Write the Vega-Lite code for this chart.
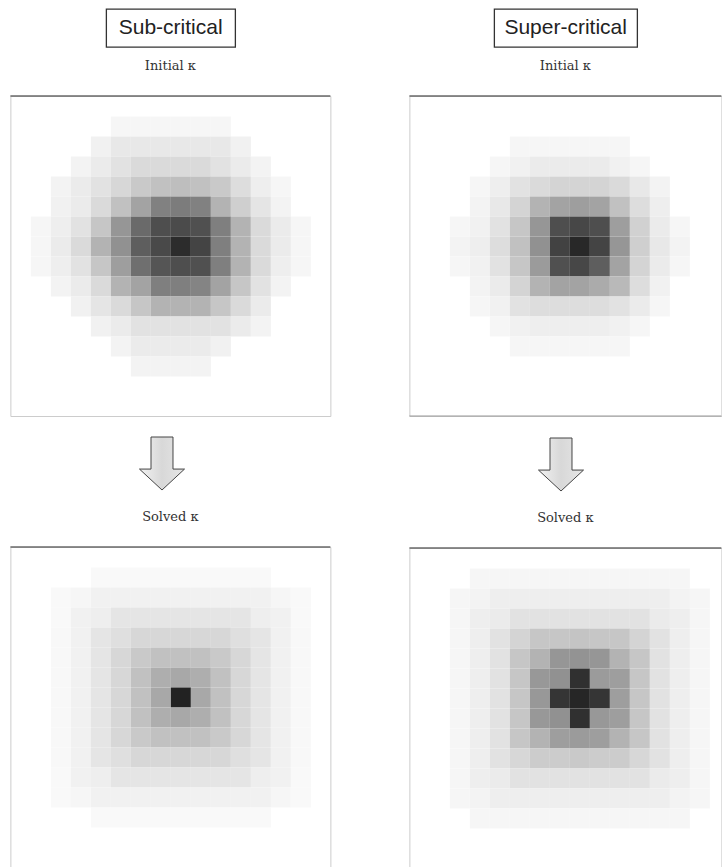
{
  "$schema": "https://vega.github.io/schema/vega-lite/v6.json",
  "padding": {"left": 9, "top": 8, "right": 0, "bottom": 0},
  "background": "white",
  "datasets": {
    "subInit": [
      {"i":5,"j":14,"kappa":0.03},{"i":6,"j":14,"kappa":0.03},{"i":7,"j":14,"kappa":0.03},{"i":8,"j":14,"kappa":0.03},{"i":9,"j":14,"kappa":0.03},{"i":10,"j":14,"kappa":0.03},
      {"i":4,"j":13,"kappa":0.05},{"i":5,"j":13,"kappa":0.08},{"i":6,"j":13,"kappa":0.08},{"i":7,"j":13,"kappa":0.08},{"i":8,"j":13,"kappa":0.08},{"i":9,"j":13,"kappa":0.08},{"i":10,"j":13,"kappa":0.08},{"i":11,"j":13,"kappa":0.05},
      {"i":3,"j":12,"kappa":0.04},{"i":4,"j":12,"kappa":0.07},{"i":5,"j":12,"kappa":0.10},{"i":6,"j":12,"kappa":0.13},{"i":7,"j":12,"kappa":0.13},{"i":8,"j":12,"kappa":0.13},{"i":9,"j":12,"kappa":0.13},{"i":10,"j":12,"kappa":0.10},{"i":11,"j":12,"kappa":0.07},{"i":12,"j":12,"kappa":0.04},
      {"i":2,"j":11,"kappa":0.04},{"i":3,"j":11,"kappa":0.07},{"i":4,"j":11,"kappa":0.10},{"i":5,"j":11,"kappa":0.14},{"i":6,"j":11,"kappa":0.19},{"i":7,"j":11,"kappa":0.22},{"i":8,"j":11,"kappa":0.23},{"i":9,"j":11,"kappa":0.22},{"i":10,"j":11,"kappa":0.19},{"i":11,"j":11,"kappa":0.12},{"i":12,"j":11,"kappa":0.06},{"i":13,"j":11,"kappa":0.03},
      {"i":2,"j":10,"kappa":0.05},{"i":3,"j":10,"kappa":0.07},{"i":4,"j":10,"kappa":0.13},{"i":5,"j":10,"kappa":0.22},{"i":6,"j":10,"kappa":0.33},{"i":7,"j":10,"kappa":0.46},{"i":8,"j":10,"kappa":0.48},{"i":9,"j":10,"kappa":0.46},{"i":10,"j":10,"kappa":0.27},{"i":11,"j":10,"kappa":0.17},{"i":12,"j":10,"kappa":0.09},{"i":13,"j":10,"kappa":0.04},
      {"i":1,"j":9,"kappa":0.03},{"i":2,"j":9,"kappa":0.06},{"i":3,"j":9,"kappa":0.10},{"i":4,"j":9,"kappa":0.20},{"i":5,"j":9,"kappa":0.38},{"i":6,"j":9,"kappa":0.55},{"i":7,"j":9,"kappa":0.67},{"i":8,"j":9,"kappa":0.68},{"i":9,"j":9,"kappa":0.66},{"i":10,"j":9,"kappa":0.47},{"i":11,"j":9,"kappa":0.27},{"i":12,"j":9,"kappa":0.13},{"i":13,"j":9,"kappa":0.07},{"i":14,"j":9,"kappa":0.03},
      {"i":1,"j":8,"kappa":0.03},{"i":2,"j":8,"kappa":0.07},{"i":3,"j":8,"kappa":0.13},{"i":4,"j":8,"kappa":0.27},{"i":5,"j":8,"kappa":0.40},{"i":6,"j":8,"kappa":0.60},{"i":7,"j":8,"kappa":0.69},{"i":8,"j":8,"kappa":0.82},{"i":9,"j":8,"kappa":0.71},{"i":10,"j":8,"kappa":0.47},{"i":11,"j":8,"kappa":0.27},{"i":12,"j":8,"kappa":0.13},{"i":13,"j":8,"kappa":0.07},{"i":14,"j":8,"kappa":0.03},
      {"i":1,"j":7,"kappa":0.03},{"i":2,"j":7,"kappa":0.06},{"i":3,"j":7,"kappa":0.10},{"i":4,"j":7,"kappa":0.20},{"i":5,"j":7,"kappa":0.35},{"i":6,"j":7,"kappa":0.53},{"i":7,"j":7,"kappa":0.64},{"i":8,"j":7,"kappa":0.67},{"i":9,"j":7,"kappa":0.66},{"i":10,"j":7,"kappa":0.47},{"i":11,"j":7,"kappa":0.27},{"i":12,"j":7,"kappa":0.13},{"i":13,"j":7,"kappa":0.06},{"i":14,"j":7,"kappa":0.03},
      {"i":2,"j":6,"kappa":0.04},{"i":3,"j":6,"kappa":0.07},{"i":4,"j":6,"kappa":0.13},{"i":5,"j":6,"kappa":0.27},{"i":6,"j":6,"kappa":0.33},{"i":7,"j":6,"kappa":0.47},{"i":8,"j":6,"kappa":0.47},{"i":9,"j":6,"kappa":0.45},{"i":10,"j":6,"kappa":0.33},{"i":11,"j":6,"kappa":0.20},{"i":12,"j":6,"kappa":0.10},{"i":13,"j":6,"kappa":0.04},
      {"i":3,"j":5,"kappa":0.05},{"i":4,"j":5,"kappa":0.09},{"i":5,"j":5,"kappa":0.13},{"i":6,"j":5,"kappa":0.20},{"i":7,"j":5,"kappa":0.27},{"i":8,"j":5,"kappa":0.27},{"i":9,"j":5,"kappa":0.27},{"i":10,"j":5,"kappa":0.20},{"i":11,"j":5,"kappa":0.13},{"i":12,"j":5,"kappa":0.07},
      {"i":4,"j":4,"kappa":0.05},{"i":5,"j":4,"kappa":0.07},{"i":6,"j":4,"kappa":0.10},{"i":7,"j":4,"kappa":0.10},{"i":8,"j":4,"kappa":0.10},{"i":9,"j":4,"kappa":0.10},{"i":10,"j":4,"kappa":0.10},{"i":11,"j":4,"kappa":0.07},{"i":12,"j":4,"kappa":0.04},
      {"i":5,"j":3,"kappa":0.04},{"i":6,"j":3,"kappa":0.07},{"i":7,"j":3,"kappa":0.07},{"i":8,"j":3,"kappa":0.07},{"i":9,"j":3,"kappa":0.07},{"i":10,"j":3,"kappa":0.05},
      {"i":6,"j":2,"kappa":0.04},{"i":7,"j":2,"kappa":0.04},{"i":8,"j":2,"kappa":0.04},{"i":9,"j":2,"kappa":0.04}
    ],
    "supInit": [
      {"i":5,"j":13,"kappa":0.03},{"i":6,"j":13,"kappa":0.03},{"i":7,"j":13,"kappa":0.03},{"i":8,"j":13,"kappa":0.03},{"i":9,"j":13,"kappa":0.03},{"i":10,"j":13,"kappa":0.03},
      {"i":4,"j":12,"kappa":0.03},{"i":5,"j":12,"kappa":0.05},{"i":6,"j":12,"kappa":0.07},{"i":7,"j":12,"kappa":0.07},{"i":8,"j":12,"kappa":0.07},{"i":9,"j":12,"kappa":0.07},{"i":10,"j":12,"kappa":0.05},{"i":11,"j":12,"kappa":0.03},
      {"i":3,"j":11,"kappa":0.03},{"i":4,"j":11,"kappa":0.06},{"i":5,"j":11,"kappa":0.10},{"i":6,"j":11,"kappa":0.13},{"i":7,"j":11,"kappa":0.15},{"i":8,"j":11,"kappa":0.15},{"i":9,"j":11,"kappa":0.15},{"i":10,"j":11,"kappa":0.13},{"i":11,"j":11,"kappa":0.08},{"i":12,"j":11,"kappa":0.04},
      {"i":3,"j":10,"kappa":0.04},{"i":4,"j":10,"kappa":0.08},{"i":5,"j":10,"kappa":0.15},{"i":6,"j":10,"kappa":0.27},{"i":7,"j":10,"kappa":0.33},{"i":8,"j":10,"kappa":0.35},{"i":9,"j":10,"kappa":0.33},{"i":10,"j":10,"kappa":0.22},{"i":11,"j":10,"kappa":0.12},{"i":12,"j":10,"kappa":0.06},
      {"i":2,"j":9,"kappa":0.03},{"i":3,"j":9,"kappa":0.05},{"i":4,"j":9,"kappa":0.10},{"i":5,"j":9,"kappa":0.20},{"i":6,"j":9,"kappa":0.38},{"i":7,"j":9,"kappa":0.67},{"i":8,"j":9,"kappa":0.70},{"i":9,"j":9,"kappa":0.67},{"i":10,"j":9,"kappa":0.35},{"i":11,"j":9,"kappa":0.16},{"i":12,"j":9,"kappa":0.07},{"i":13,"j":9,"kappa":0.03},
      {"i":2,"j":8,"kappa":0.04},{"i":3,"j":8,"kappa":0.06},{"i":4,"j":8,"kappa":0.12},{"i":5,"j":8,"kappa":0.22},{"i":6,"j":8,"kappa":0.40},{"i":7,"j":8,"kappa":0.72},{"i":8,"j":8,"kappa":0.84},{"i":9,"j":8,"kappa":0.71},{"i":10,"j":8,"kappa":0.38},{"i":11,"j":8,"kappa":0.17},{"i":12,"j":8,"kappa":0.08},{"i":13,"j":8,"kappa":0.04},
      {"i":2,"j":7,"kappa":0.03},{"i":3,"j":7,"kappa":0.05},{"i":4,"j":7,"kappa":0.10},{"i":5,"j":7,"kappa":0.20},{"i":6,"j":7,"kappa":0.36},{"i":7,"j":7,"kappa":0.66},{"i":8,"j":7,"kappa":0.70},{"i":9,"j":7,"kappa":0.60},{"i":10,"j":7,"kappa":0.33},{"i":11,"j":7,"kappa":0.15},{"i":12,"j":7,"kappa":0.07},{"i":13,"j":7,"kappa":0.03},
      {"i":3,"j":6,"kappa":0.04},{"i":4,"j":6,"kappa":0.07},{"i":5,"j":6,"kappa":0.15},{"i":6,"j":6,"kappa":0.27},{"i":7,"j":6,"kappa":0.33},{"i":8,"j":6,"kappa":0.33},{"i":9,"j":6,"kappa":0.30},{"i":10,"j":6,"kappa":0.25},{"i":11,"j":6,"kappa":0.12},{"i":12,"j":6,"kappa":0.05},
      {"i":3,"j":5,"kappa":0.03},{"i":4,"j":5,"kappa":0.05},{"i":5,"j":5,"kappa":0.10},{"i":6,"j":5,"kappa":0.12},{"i":7,"j":5,"kappa":0.12},{"i":8,"j":5,"kappa":0.12},{"i":9,"j":5,"kappa":0.12},{"i":10,"j":5,"kappa":0.10},{"i":11,"j":5,"kappa":0.07},{"i":12,"j":5,"kappa":0.03},
      {"i":4,"j":4,"kappa":0.03},{"i":5,"j":4,"kappa":0.05},{"i":6,"j":4,"kappa":0.06},{"i":7,"j":4,"kappa":0.06},{"i":8,"j":4,"kappa":0.06},{"i":9,"j":4,"kappa":0.06},{"i":10,"j":4,"kappa":0.05},{"i":11,"j":4,"kappa":0.03},
      {"i":5,"j":3,"kappa":0.03},{"i":6,"j":3,"kappa":0.03},{"i":7,"j":3,"kappa":0.03},{"i":8,"j":3,"kappa":0.03},{"i":9,"j":3,"kappa":0.03},{"i":10,"j":3,"kappa":0.03}
    ],
    "subSolved": [
      {"i":4,"j":14,"kappa":0.02},{"i":5,"j":14,"kappa":0.02},{"i":6,"j":14,"kappa":0.02},{"i":7,"j":14,"kappa":0.02},{"i":8,"j":14,"kappa":0.02},{"i":9,"j":14,"kappa":0.02},{"i":10,"j":14,"kappa":0.02},{"i":11,"j":14,"kappa":0.02},{"i":12,"j":14,"kappa":0.02},
      {"i":2,"j":13,"kappa":0.02},{"i":3,"j":13,"kappa":0.03},{"i":4,"j":13,"kappa":0.05},{"i":5,"j":13,"kappa":0.05},{"i":6,"j":13,"kappa":0.05},{"i":7,"j":13,"kappa":0.05},{"i":8,"j":13,"kappa":0.05},{"i":9,"j":13,"kappa":0.05},{"i":10,"j":13,"kappa":0.05},{"i":11,"j":13,"kappa":0.05},{"i":12,"j":13,"kappa":0.05},{"i":13,"j":13,"kappa":0.03},{"i":14,"j":13,"kappa":0.02},
      {"i":2,"j":12,"kappa":0.02},{"i":3,"j":12,"kappa":0.05},{"i":4,"j":12,"kappa":0.06},{"i":5,"j":12,"kappa":0.09},{"i":6,"j":12,"kappa":0.09},{"i":7,"j":12,"kappa":0.09},{"i":8,"j":12,"kappa":0.09},{"i":9,"j":12,"kappa":0.09},{"i":10,"j":12,"kappa":0.09},{"i":11,"j":12,"kappa":0.09},{"i":12,"j":12,"kappa":0.06},{"i":13,"j":12,"kappa":0.05},{"i":14,"j":12,"kappa":0.02},
      {"i":2,"j":11,"kappa":0.025},{"i":3,"j":11,"kappa":0.05},{"i":4,"j":11,"kappa":0.09},{"i":5,"j":11,"kappa":0.11},{"i":6,"j":11,"kappa":0.14},{"i":7,"j":11,"kappa":0.14},{"i":8,"j":11,"kappa":0.14},{"i":9,"j":11,"kappa":0.14},{"i":10,"j":11,"kappa":0.14},{"i":11,"j":11,"kappa":0.11},{"i":12,"j":11,"kappa":0.09},{"i":13,"j":11,"kappa":0.05},{"i":14,"j":11,"kappa":0.025},
      {"i":2,"j":10,"kappa":0.025},{"i":3,"j":10,"kappa":0.05},{"i":4,"j":10,"kappa":0.09},{"i":5,"j":10,"kappa":0.14},{"i":6,"j":10,"kappa":0.19},{"i":7,"j":10,"kappa":0.22},{"i":8,"j":10,"kappa":0.22},{"i":9,"j":10,"kappa":0.22},{"i":10,"j":10,"kappa":0.19},{"i":11,"j":10,"kappa":0.14},{"i":12,"j":10,"kappa":0.09},{"i":13,"j":10,"kappa":0.05},{"i":14,"j":10,"kappa":0.025},
      {"i":2,"j":9,"kappa":0.025},{"i":3,"j":9,"kappa":0.05},{"i":4,"j":9,"kappa":0.09},{"i":5,"j":9,"kappa":0.14},{"i":6,"j":9,"kappa":0.22},{"i":7,"j":9,"kappa":0.29},{"i":8,"j":9,"kappa":0.31},{"i":9,"j":9,"kappa":0.29},{"i":10,"j":9,"kappa":0.22},{"i":11,"j":9,"kappa":0.14},{"i":12,"j":9,"kappa":0.09},{"i":13,"j":9,"kappa":0.05},{"i":14,"j":9,"kappa":0.025},
      {"i":2,"j":8,"kappa":0.025},{"i":3,"j":8,"kappa":0.05},{"i":4,"j":8,"kappa":0.09},{"i":5,"j":8,"kappa":0.14},{"i":6,"j":8,"kappa":0.22},{"i":7,"j":8,"kappa":0.31},{"i":8,"j":8,"kappa":0.87},{"i":9,"j":8,"kappa":0.31},{"i":10,"j":8,"kappa":0.22},{"i":11,"j":8,"kappa":0.14},{"i":12,"j":8,"kappa":0.09},{"i":13,"j":8,"kappa":0.05},{"i":14,"j":8,"kappa":0.025},
      {"i":2,"j":7,"kappa":0.025},{"i":3,"j":7,"kappa":0.05},{"i":4,"j":7,"kappa":0.09},{"i":5,"j":7,"kappa":0.14},{"i":6,"j":7,"kappa":0.22},{"i":7,"j":7,"kappa":0.29},{"i":8,"j":7,"kappa":0.31},{"i":9,"j":7,"kappa":0.29},{"i":10,"j":7,"kappa":0.22},{"i":11,"j":7,"kappa":0.14},{"i":12,"j":7,"kappa":0.09},{"i":13,"j":7,"kappa":0.05},{"i":14,"j":7,"kappa":0.025},
      {"i":2,"j":6,"kappa":0.025},{"i":3,"j":6,"kappa":0.05},{"i":4,"j":6,"kappa":0.09},{"i":5,"j":6,"kappa":0.14},{"i":6,"j":6,"kappa":0.19},{"i":7,"j":6,"kappa":0.22},{"i":8,"j":6,"kappa":0.22},{"i":9,"j":6,"kappa":0.22},{"i":10,"j":6,"kappa":0.19},{"i":11,"j":6,"kappa":0.14},{"i":12,"j":6,"kappa":0.09},{"i":13,"j":6,"kappa":0.05},{"i":14,"j":6,"kappa":0.025},
      {"i":2,"j":5,"kappa":0.025},{"i":3,"j":5,"kappa":0.05},{"i":4,"j":5,"kappa":0.09},{"i":5,"j":5,"kappa":0.11},{"i":6,"j":5,"kappa":0.14},{"i":7,"j":5,"kappa":0.14},{"i":8,"j":5,"kappa":0.14},{"i":9,"j":5,"kappa":0.14},{"i":10,"j":5,"kappa":0.14},{"i":11,"j":5,"kappa":0.11},{"i":12,"j":5,"kappa":0.09},{"i":13,"j":5,"kappa":0.05},{"i":14,"j":5,"kappa":0.025},
      {"i":2,"j":4,"kappa":0.02},{"i":3,"j":4,"kappa":0.05},{"i":4,"j":4,"kappa":0.06},{"i":5,"j":4,"kappa":0.09},{"i":6,"j":4,"kappa":0.09},{"i":7,"j":4,"kappa":0.09},{"i":8,"j":4,"kappa":0.09},{"i":9,"j":4,"kappa":0.09},{"i":10,"j":4,"kappa":0.09},{"i":11,"j":4,"kappa":0.09},{"i":12,"j":4,"kappa":0.06},{"i":13,"j":4,"kappa":0.05},{"i":14,"j":4,"kappa":0.02},
      {"i":2,"j":3,"kappa":0.02},{"i":3,"j":3,"kappa":0.03},{"i":4,"j":3,"kappa":0.05},{"i":5,"j":3,"kappa":0.05},{"i":6,"j":3,"kappa":0.05},{"i":7,"j":3,"kappa":0.05},{"i":8,"j":3,"kappa":0.05},{"i":9,"j":3,"kappa":0.05},{"i":10,"j":3,"kappa":0.05},{"i":11,"j":3,"kappa":0.05},{"i":12,"j":3,"kappa":0.05},{"i":13,"j":3,"kappa":0.03},{"i":14,"j":3,"kappa":0.02},
      {"i":4,"j":2,"kappa":0.02},{"i":5,"j":2,"kappa":0.02},{"i":6,"j":2,"kappa":0.02},{"i":7,"j":2,"kappa":0.02},{"i":8,"j":2,"kappa":0.02},{"i":9,"j":2,"kappa":0.02},{"i":10,"j":2,"kappa":0.02},{"i":11,"j":2,"kappa":0.02},{"i":12,"j":2,"kappa":0.02}
    ],
    "supSolved": [
      {"i":3,"j":14,"kappa":0.03},{"i":4,"j":14,"kappa":0.03},{"i":5,"j":14,"kappa":0.03},{"i":6,"j":14,"kappa":0.03},{"i":7,"j":14,"kappa":0.03},{"i":8,"j":14,"kappa":0.03},{"i":9,"j":14,"kappa":0.03},{"i":10,"j":14,"kappa":0.03},{"i":11,"j":14,"kappa":0.03},{"i":12,"j":14,"kappa":0.03},{"i":13,"j":14,"kappa":0.03},
      {"i":2,"j":13,"kappa":0.03},{"i":3,"j":13,"kappa":0.04},{"i":4,"j":13,"kappa":0.06},{"i":5,"j":13,"kappa":0.06},{"i":6,"j":13,"kappa":0.06},{"i":7,"j":13,"kappa":0.06},{"i":8,"j":13,"kappa":0.06},{"i":9,"j":13,"kappa":0.06},{"i":10,"j":13,"kappa":0.06},{"i":11,"j":13,"kappa":0.06},{"i":12,"j":13,"kappa":0.06},{"i":13,"j":13,"kappa":0.04},{"i":14,"j":13,"kappa":0.03},
      {"i":2,"j":12,"kappa":0.03},{"i":3,"j":12,"kappa":0.06},{"i":4,"j":12,"kappa":0.07},{"i":5,"j":12,"kappa":0.10},{"i":6,"j":12,"kappa":0.10},{"i":7,"j":12,"kappa":0.10},{"i":8,"j":12,"kappa":0.10},{"i":9,"j":12,"kappa":0.10},{"i":10,"j":12,"kappa":0.10},{"i":11,"j":12,"kappa":0.10},{"i":12,"j":12,"kappa":0.07},{"i":13,"j":12,"kappa":0.06},{"i":14,"j":12,"kappa":0.03},
      {"i":2,"j":11,"kappa":0.03},{"i":3,"j":11,"kappa":0.06},{"i":4,"j":11,"kappa":0.10},{"i":5,"j":11,"kappa":0.15},{"i":6,"j":11,"kappa":0.20},{"i":7,"j":11,"kappa":0.20},{"i":8,"j":11,"kappa":0.21},{"i":9,"j":11,"kappa":0.20},{"i":10,"j":11,"kappa":0.20},{"i":11,"j":11,"kappa":0.15},{"i":12,"j":11,"kappa":0.10},{"i":13,"j":11,"kappa":0.06},{"i":14,"j":11,"kappa":0.03},
      {"i":2,"j":10,"kappa":0.03},{"i":3,"j":10,"kappa":0.06},{"i":4,"j":10,"kappa":0.10},{"i":5,"j":10,"kappa":0.20},{"i":6,"j":10,"kappa":0.27},{"i":7,"j":10,"kappa":0.38},{"i":8,"j":10,"kappa":0.39},{"i":9,"j":10,"kappa":0.38},{"i":10,"j":10,"kappa":0.27},{"i":11,"j":10,"kappa":0.20},{"i":12,"j":10,"kappa":0.10},{"i":13,"j":10,"kappa":0.06},{"i":14,"j":10,"kappa":0.03},
      {"i":2,"j":9,"kappa":0.03},{"i":3,"j":9,"kappa":0.06},{"i":4,"j":9,"kappa":0.10},{"i":5,"j":9,"kappa":0.20},{"i":6,"j":9,"kappa":0.37},{"i":7,"j":9,"kappa":0.40},{"i":8,"j":9,"kappa":0.80},{"i":9,"j":9,"kappa":0.36},{"i":10,"j":9,"kappa":0.35},{"i":11,"j":9,"kappa":0.20},{"i":12,"j":9,"kappa":0.10},{"i":13,"j":9,"kappa":0.06},{"i":14,"j":9,"kappa":0.03},
      {"i":2,"j":8,"kappa":0.03},{"i":3,"j":8,"kappa":0.06},{"i":4,"j":8,"kappa":0.10},{"i":5,"j":8,"kappa":0.20},{"i":6,"j":8,"kappa":0.37},{"i":7,"j":8,"kappa":0.78},{"i":8,"j":8,"kappa":0.85},{"i":9,"j":8,"kappa":0.78},{"i":10,"j":8,"kappa":0.35},{"i":11,"j":8,"kappa":0.20},{"i":12,"j":8,"kappa":0.10},{"i":13,"j":8,"kappa":0.06},{"i":14,"j":8,"kappa":0.03},
      {"i":2,"j":7,"kappa":0.03},{"i":3,"j":7,"kappa":0.06},{"i":4,"j":7,"kappa":0.10},{"i":5,"j":7,"kappa":0.20},{"i":6,"j":7,"kappa":0.37},{"i":7,"j":7,"kappa":0.40},{"i":8,"j":7,"kappa":0.80},{"i":9,"j":7,"kappa":0.37},{"i":10,"j":7,"kappa":0.35},{"i":11,"j":7,"kappa":0.20},{"i":12,"j":7,"kappa":0.10},{"i":13,"j":7,"kappa":0.06},{"i":14,"j":7,"kappa":0.03},
      {"i":2,"j":6,"kappa":0.03},{"i":3,"j":6,"kappa":0.06},{"i":4,"j":6,"kappa":0.10},{"i":5,"j":6,"kappa":0.20},{"i":6,"j":6,"kappa":0.27},{"i":7,"j":6,"kappa":0.35},{"i":8,"j":6,"kappa":0.36},{"i":9,"j":6,"kappa":0.35},{"i":10,"j":6,"kappa":0.27},{"i":11,"j":6,"kappa":0.20},{"i":12,"j":6,"kappa":0.10},{"i":13,"j":6,"kappa":0.06},{"i":14,"j":6,"kappa":0.03},
      {"i":2,"j":5,"kappa":0.03},{"i":3,"j":5,"kappa":0.06},{"i":4,"j":5,"kappa":0.10},{"i":5,"j":5,"kappa":0.14},{"i":6,"j":5,"kappa":0.18},{"i":7,"j":5,"kappa":0.18},{"i":8,"j":5,"kappa":0.19},{"i":9,"j":5,"kappa":0.18},{"i":10,"j":5,"kappa":0.18},{"i":11,"j":5,"kappa":0.14},{"i":12,"j":5,"kappa":0.10},{"i":13,"j":5,"kappa":0.06},{"i":14,"j":5,"kappa":0.03},
      {"i":2,"j":4,"kappa":0.03},{"i":3,"j":4,"kappa":0.06},{"i":4,"j":4,"kappa":0.07},{"i":5,"j":4,"kappa":0.10},{"i":6,"j":4,"kappa":0.10},{"i":7,"j":4,"kappa":0.10},{"i":8,"j":4,"kappa":0.10},{"i":9,"j":4,"kappa":0.10},{"i":10,"j":4,"kappa":0.10},{"i":11,"j":4,"kappa":0.10},{"i":12,"j":4,"kappa":0.07},{"i":13,"j":4,"kappa":0.06},{"i":14,"j":4,"kappa":0.03},
      {"i":2,"j":3,"kappa":0.03},{"i":3,"j":3,"kappa":0.04},{"i":4,"j":3,"kappa":0.06},{"i":5,"j":3,"kappa":0.06},{"i":6,"j":3,"kappa":0.06},{"i":7,"j":3,"kappa":0.06},{"i":8,"j":3,"kappa":0.06},{"i":9,"j":3,"kappa":0.06},{"i":10,"j":3,"kappa":0.06},{"i":11,"j":3,"kappa":0.06},{"i":12,"j":3,"kappa":0.06},{"i":13,"j":3,"kappa":0.04},{"i":14,"j":3,"kappa":0.03},
      {"i":3,"j":2,"kappa":0.03},{"i":4,"j":2,"kappa":0.03},{"i":5,"j":2,"kappa":0.03},{"i":6,"j":2,"kappa":0.03},{"i":7,"j":2,"kappa":0.03},{"i":8,"j":2,"kappa":0.03},{"i":9,"j":2,"kappa":0.03},{"i":10,"j":2,"kappa":0.03},{"i":11,"j":2,"kappa":0.03},{"i":12,"j":2,"kappa":0.03},{"i":13,"j":2,"kappa":0.03}
    ]
  },
  "spacing": 76,
  "hconcat": [
    {
      "spacing": 11,
      "center": true,
      "vconcat": [
        {
          "width": 129, "height": 38,
          "view": {"stroke": "#333333", "strokeWidth": 1.3},
          "data": {"values": [{"label": "Sub-critical"}]},
          "mark": {"type": "text", "font": "Liberation Sans", "fontSize": 21, "color": "#222222"},
          "encoding": {"text": {"field": "label"}}
        },
        {
          "width": 320, "height": 320,
          "title": {"text": "Initial κ", "offset": 22},
          "layer": [
            {
              "data": {"name": "subInit"},
              "mark": "rect",
              "encoding": {
                "x": {"field": "i", "type": "quantitative", "bin": {"binned": true, "step": 1}, "scale": {"domain": [0, 16], "nice": false, "zero": false}, "axis": null},
                "y": {"field": "j", "type": "quantitative", "bin": {"binned": true, "step": 1}, "scale": {"domain": [0, 16], "nice": false, "zero": false}, "axis": null},
                "color": {"field": "kappa", "type": "quantitative", "scale": {"domain": [0, 1], "range": ["#ffffff", "#000000"]}, "legend": null}
              }
            },
            {
              "data": {"values": [{"edge": "top"}]},
              "mark": {"type": "rule", "color": "#6a6a6a", "strokeWidth": 1.5},
              "encoding": {"y": {"datum": 16, "type": "quantitative"}}
            }
          ]
        },
        {
          "width": 320, "height": 71,
          "view": {"stroke": null},
          "data": {"values": [{"step": "solve"}]},
          "mark": {"type": "point", "shape": "M-0.415,-1L0.415,-1L0.415,0.21L0.85,0.21L0,1L-0.85,0.21L-0.415,0.21Z", "size": 2809, "filled": true, "opacity": 1,
            "fill": {"gradient": "linear", "x1": 0, "y1": 0, "x2": 1, "y2": 0, "stops": [{"offset": 0, "color": "#f2f2f2"}, {"offset": 0.5, "color": "#d8d8d8"}, {"offset": 1, "color": "#e6e6e6"}]},
            "stroke": "#444444", "strokeWidth": 1},
          "encoding": {"x": {"datum": 7.55, "type": "quantitative", "scale": {"domain": [0, 16], "nice": false, "zero": false}, "axis": null}}
        },
        {
          "width": 320, "height": 320,
          "title": {"text": "Solved κ", "offset": 22},
          "layer": [
            {
              "data": {"name": "subSolved"},
              "mark": "rect",
              "encoding": {
                "x": {"field": "i", "type": "quantitative", "bin": {"binned": true, "step": 1}, "scale": {"domain": [0, 16], "nice": false, "zero": false}, "axis": null},
                "y": {"field": "j", "type": "quantitative", "bin": {"binned": true, "step": 1}, "scale": {"domain": [0, 16], "nice": false, "zero": false}, "axis": null},
                "color": {"field": "kappa", "type": "quantitative", "scale": {"domain": [0, 1], "range": ["#ffffff", "#000000"]}, "legend": null}
              }
            },
            {
              "data": {"values": [{"edge": "top"}]},
              "mark": {"type": "rule", "color": "#6a6a6a", "strokeWidth": 1.5},
              "encoding": {"y": {"datum": 16, "type": "quantitative"}}
            }
          ]
        }
      ]
    },
    {
      "spacing": 11,
      "center": true,
      "vconcat": [
        {
          "width": 143, "height": 38,
          "view": {"stroke": "#333333", "strokeWidth": 1.3},
          "data": {"values": [{"label": "Super-critical"}]},
          "mark": {"type": "text", "font": "Liberation Sans", "fontSize": 21, "color": "#222222"},
          "encoding": {"text": {"field": "label"}}
        },
        {
          "width": 312, "height": 320,
          "title": {"text": "Initial κ", "offset": 22},
          "layer": [
            {
              "data": {"name": "supInit"},
              "mark": "rect",
              "encoding": {
                "x": {"field": "i", "type": "quantitative", "bin": {"binned": true, "step": 1}, "scale": {"domain": [0, 15.6], "nice": false, "zero": false}, "axis": null},
                "y": {"field": "j", "type": "quantitative", "bin": {"binned": true, "step": 1}, "scale": {"domain": [0, 16], "nice": false, "zero": false}, "axis": null},
                "color": {"field": "kappa", "type": "quantitative", "scale": {"domain": [0, 1], "range": ["#ffffff", "#000000"]}, "legend": null}
              }
            },
            {
              "data": {"values": [{"edge": "top"}]},
              "mark": {"type": "rule", "color": "#6a6a6a", "strokeWidth": 1.5},
              "encoding": {"y": {"datum": 16, "type": "quantitative"}}
            },
            {
              "data": {"values": [{"edge": "bottom"}]},
              "mark": {"type": "rule", "color": "#9a9a9a", "strokeWidth": 1.2},
              "encoding": {"y": {"datum": 0, "type": "quantitative"}}
            }
          ]
        },
        {
          "width": 312, "height": 71,
          "view": {"stroke": null},
          "data": {"values": [{"step": "solve"}]},
          "mark": {"type": "point", "shape": "M-0.415,-1L0.415,-1L0.415,0.21L0.85,0.21L0,1L-0.85,0.21L-0.415,0.21Z", "size": 2809, "filled": true, "opacity": 1,
            "fill": {"gradient": "linear", "x1": 0, "y1": 0, "x2": 1, "y2": 0, "stops": [{"offset": 0, "color": "#f2f2f2"}, {"offset": 0.5, "color": "#d8d8d8"}, {"offset": 1, "color": "#e6e6e6"}]},
            "stroke": "#444444", "strokeWidth": 1},
          "encoding": {"x": {"datum": 7.55, "type": "quantitative", "scale": {"domain": [0, 15.6], "nice": false, "zero": false}, "axis": null}}
        },
        {
          "width": 312, "height": 320,
          "title": {"text": "Solved κ", "offset": 22},
          "layer": [
            {
              "data": {"name": "supSolved"},
              "mark": "rect",
              "encoding": {
                "x": {"field": "i", "type": "quantitative", "bin": {"binned": true, "step": 1}, "scale": {"domain": [0, 15.6], "nice": false, "zero": false}, "axis": null},
                "y": {"field": "j", "type": "quantitative", "bin": {"binned": true, "step": 1}, "scale": {"domain": [0, 16], "nice": false, "zero": false}, "axis": null},
                "color": {"field": "kappa", "type": "quantitative", "scale": {"domain": [0, 1], "range": ["#ffffff", "#000000"]}, "legend": null}
              }
            },
            {
              "data": {"values": [{"edge": "top"}]},
              "mark": {"type": "rule", "color": "#6a6a6a", "strokeWidth": 1.5},
              "encoding": {"y": {"datum": 16, "type": "quantitative"}}
            },
            {
              "data": {"values": [{"edge": "bottom"}]},
              "mark": {"type": "rule", "color": "#9a9a9a", "strokeWidth": 1.2},
              "encoding": {"y": {"datum": 0, "type": "quantitative"}}
            }
          ]
        }
      ]
    }
  ],
  "config": {
    "view": {"stroke": "#cccccc", "strokeWidth": 1},
    "title": {"font": "DejaVu Serif", "fontSize": 13, "fontWeight": "normal", "color": "#333333", "anchor": "middle"}
  }
}
